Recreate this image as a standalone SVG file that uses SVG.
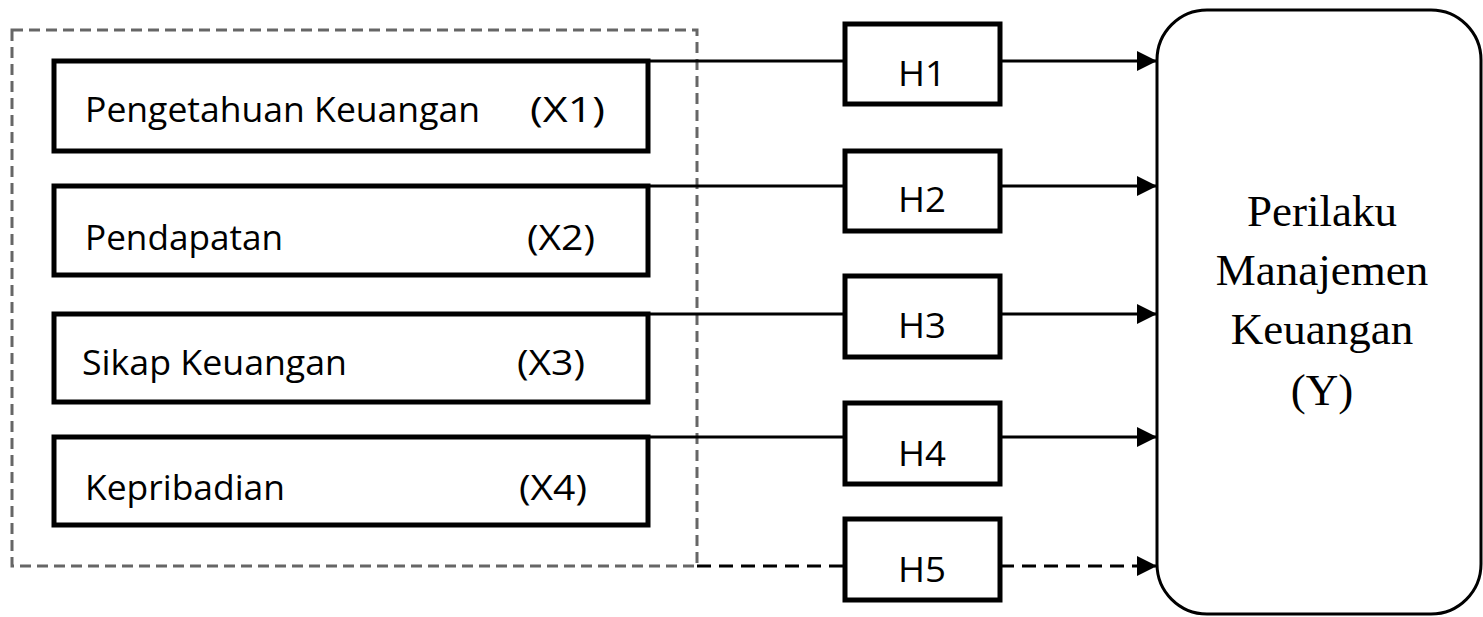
<svg xmlns="http://www.w3.org/2000/svg" width="1483" height="617" viewBox="0 0 1483 617">
<style>
.box{fill:#fff;stroke:#000;stroke-width:5}
.hbox{fill:#fff;stroke:#000;stroke-width:5}
.lbl{font-family:"Open Sans","Liberation Sans",sans-serif;font-size:35px;fill:#000}
.hl{font-family:"Open Sans","Liberation Sans",sans-serif;font-size:35px;fill:#000}
.yl{font-family:"Liberation Serif","Times New Roman",serif;font-size:45px;fill:#000}
.ln{stroke:#000;stroke-width:3;fill:none}
.dl{stroke:#000;stroke-width:3;fill:none;stroke-dasharray:14 8}
.grp{stroke:#666;stroke-width:3;fill:none;stroke-dasharray:11 6}
</style>
<defs>
<marker id="ah" markerWidth="20" markerHeight="20" refX="20" refY="10" orient="auto" markerUnits="userSpaceOnUse">
<path d="M0,0 L20,10 L0,20 Z" fill="#000"/>
</marker>
</defs>
<rect id="group" class="grp" x="12" y="30" width="685" height="536"/>
<g id="connectors">
<line class="ln" x1="648" y1="61" x2="845" y2="61"/>
<line class="ln" x1="648" y1="186" x2="845" y2="186"/>
<line class="ln" x1="648" y1="314" x2="845" y2="314"/>
<line class="ln" x1="648" y1="437" x2="845" y2="437"/>
<line class="dl" x1="697" y1="566" x2="845" y2="566"/>
<line class="ln" x1="1000" y1="61" x2="1157" y2="61" marker-end="url(#ah)"/>
<line class="ln" x1="1000" y1="186" x2="1157" y2="186" marker-end="url(#ah)"/>
<line class="ln" x1="1000" y1="314" x2="1157" y2="314" marker-end="url(#ah)"/>
<line class="ln" x1="1000" y1="437" x2="1157" y2="437" marker-end="url(#ah)"/>
<line class="dl" x1="1000" y1="566" x2="1157" y2="566" marker-end="url(#ah)"/>
</g>
<g id="x1"><rect class="box" x="54" y="61" width="594" height="90"/><text class="lbl" x="85" y="122" textLength="395" lengthAdjust="spacingAndGlyphs">Pengetahuan Keuangan</text><text class="lbl" x="530" y="122" textLength="75" lengthAdjust="spacingAndGlyphs">(X1)</text></g>
<g id="x2"><rect class="box" x="54" y="186" width="594" height="89"/><text class="lbl" x="85" y="250" textLength="198" lengthAdjust="spacingAndGlyphs">Pendapatan</text><text class="lbl" x="527" y="250" textLength="68" lengthAdjust="spacingAndGlyphs">(X2)</text></g>
<g id="x3"><rect class="box" x="54" y="314" width="594" height="88"/><text class="lbl" x="82" y="375" textLength="265" lengthAdjust="spacingAndGlyphs">Sikap Keuangan</text><text class="lbl" x="517" y="375" textLength="68" lengthAdjust="spacingAndGlyphs">(X3)</text></g>
<g id="x4"><rect class="box" x="54" y="437" width="594" height="88"/><text class="lbl" x="85" y="500" textLength="200" lengthAdjust="spacingAndGlyphs">Kepribadian</text><text class="lbl" x="519" y="500" textLength="68" lengthAdjust="spacingAndGlyphs">(X4)</text></g>
<g id="h1"><rect class="hbox" x="845" y="24" width="155" height="80"/><text class="hl" x="922" y="86" text-anchor="middle" textLength="48" lengthAdjust="spacingAndGlyphs">H1</text></g>
<g id="h2"><rect class="hbox" x="845" y="151" width="155" height="80"/><text class="hl" x="922" y="212" text-anchor="middle" textLength="48" lengthAdjust="spacingAndGlyphs">H2</text></g>
<g id="h3"><rect class="hbox" x="845" y="276" width="155" height="81"/><text class="hl" x="922" y="338" text-anchor="middle" textLength="48" lengthAdjust="spacingAndGlyphs">H3</text></g>
<g id="h4"><rect class="hbox" x="845" y="403" width="155" height="81"/><text class="hl" x="922" y="466" text-anchor="middle" textLength="48" lengthAdjust="spacingAndGlyphs">H4</text></g>
<g id="h5"><rect class="hbox" x="845" y="519" width="155" height="81"/><text class="hl" x="922" y="582" text-anchor="middle" textLength="48" lengthAdjust="spacingAndGlyphs">H5</text></g>
<g id="y"><rect x="1157" y="10" width="324" height="604" rx="50" ry="50" fill="#fff" stroke="#000" stroke-width="3"/>
<text class="yl" text-anchor="middle"><tspan x="1322" y="226">Perilaku</tspan><tspan x="1322" y="285">Manajemen</tspan><tspan x="1322" y="344">Keuangan</tspan><tspan x="1322" y="405">(Y)</tspan></text></g>
</svg>
